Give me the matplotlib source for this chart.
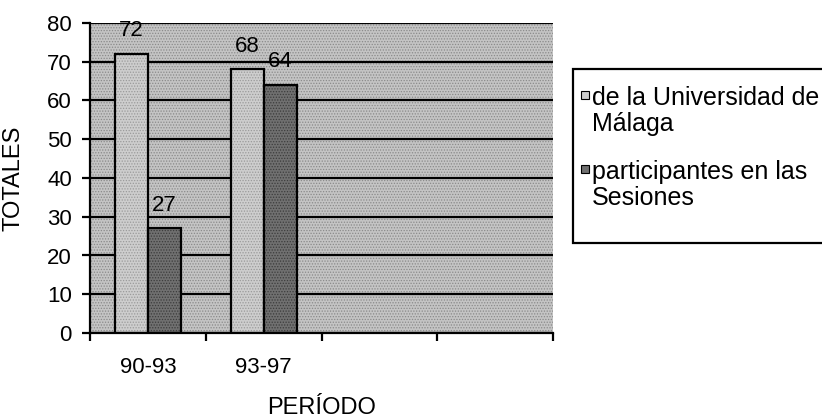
import matplotlib
matplotlib.use("Agg")
import matplotlib.pyplot as plt
import numpy as np
from matplotlib.patches import Rectangle

plt.rcParams["font.family"] = ["Liberation Sans", "DejaVu Sans"]
plt.rcParams["hatch.linewidth"] = 0.6

PERIODS = ["90-93", "93-97", "", ""]
UNIVERSIDAD = [72, 68]
PARTICIPANTES = [27, 64]
SERIES_NAMES = ["de la Universidad de\nMálaga", "participantes en las\nSesiones"]
Y_TICKS = [0, 10, 20, 30, 40, 50, 60, 70, 80]

W, H = 822, 419
BG = "#c4c4c4"
LIGHT = "#cdcdcd"
DARK = "#707070"


def px(x, y):
    # pixel position (from top-left) to figure fraction
    return x / W, 1 - y / H


def main() -> None:
    fig = plt.figure(figsize=(W / 100, H / 100), dpi=100)
    ax = fig.add_axes([90 / W, (H - 333) / H, 463 / W, 310 / H])
    ax.set_facecolor("none")
    # halftone-like fill of the plot area
    ax.add_patch(Rectangle((0, 0), 1, 1, transform=ax.transAxes, facecolor=BG,
                           edgecolor="#8a8a8a", hatch="......", linewidth=0, zorder=0))

    width = 0.285
    pos = np.arange(len(UNIVERSIDAD))
    ax.set_axisbelow(True)
    ax.yaxis.grid(True, color="black", linewidth=1.6, zorder=1)
    b1 = ax.bar(pos - width / 2, UNIVERSIDAD, width=width, color=LIGHT, hatch="......",
                edgecolor="black", linewidth=1.6, zorder=2)
    b2 = ax.bar(pos + width / 2, PARTICIPANTES, width=width, color=DARK, hatch="......",
                edgecolor="black", linewidth=1.6, zorder=2)
    for bars, shade in [(b1, "#9a9a9a"), (b2, "#3c3c3c")]:
        for bar in bars:
            bar.set_edgecolor("black")
            bar._hatch_color = matplotlib.colors.to_rgba(shade)
    for bars, values in [(b1, UNIVERSIDAD), (b2, PARTICIPANTES)]:
        for bar, value in zip(bars, values):
            ax.annotate(f"{value}", (bar.get_x() + bar.get_width() / 2, value),
                        xytext=(0, 9), textcoords="offset points",
                        ha="center", va="bottom", fontsize=16, zorder=3)

    ax.set_xlim(-0.5, len(PERIODS) - 0.5)
    ax.set_ylim(0, 80)
    ax.set_yticks(Y_TICKS)
    boundaries = np.arange(len(PERIODS) + 1) - 0.5
    ax.set_xticks(boundaries)
    ax.set_xticklabels([])
    ax.set_xticks(np.arange(len(PERIODS)), minor=True)
    ax.set_xticklabels(PERIODS, minor=True)
    ax.tick_params(axis="x", which="major", length=6, width=1.6, direction="out")
    ax.tick_params(axis="x", which="minor", length=0, pad=17, labelsize=16)
    ax.tick_params(axis="y", length=6, width=1.6, pad=7, labelsize=16)

    for side in ["top", "right"]:
        ax.spines[side].set_visible(False)
    for side in ["left", "bottom"]:
        ax.spines[side].set_linewidth(1.6)

    ax.set_xlabel("PERÍODO", fontsize=17, labelpad=14)
    ax.set_ylabel("TOTALES", fontsize=17, labelpad=16)

    # legend box, running past the right edge
    x0, y0 = px(573, 243)
    x1, y1 = px(840, 69)
    fig.patches.append(Rectangle((x0, y0), x1 - x0, y1 - y0, transform=fig.transFigure,
                                 facecolor="white", edgecolor="black", linewidth=1.6))
    for name, color, top in zip(SERIES_NAMES, [LIGHT, DARK], [91, 165]):
        sx, sy = px(581, top + 8)
        fig.patches.append(Rectangle((sx, sy), 8 / W, 8 / H, transform=fig.transFigure,
                                     facecolor=color, edgecolor="black", linewidth=0.8))
        tx, ty = px(592, top - 5)
        fig.text(tx, ty, name, fontsize=18, va="top", ha="left", linespacing=1.1)

    fig.savefig("out.png", dpi=100)
    plt.close(fig)


if __name__ == "__main__":
    main()
